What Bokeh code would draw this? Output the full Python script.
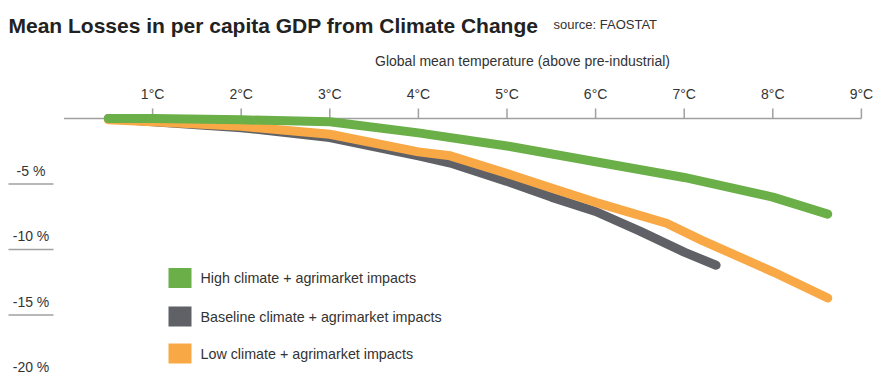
from bokeh.plotting import figure
from bokeh.models import Range1d, Label
from bokeh.core.properties import value
from bokeh.embed import file_html
from bokeh.resources import INLINE

# ---- data ----
series_names = ["High climate + agrimarket impacts",
                "Baseline climate + agrimarket impacts",
                "Low climate  + agrimarket impacts"]
high_t = [0.5, 1.0, 2.0, 3.0, 4.0, 5.0, 6.0, 7.0, 8.0, 8.62]
high_v = [0.0, 0.0, -0.1, -0.25, -1.1, -2.1, -3.3, -4.5, -6.0, -7.3]
base_t = [0.5, 1.0, 2.0, 3.0, 4.0, 4.36, 5.0, 5.5, 6.0, 6.5, 7.0, 7.36]
base_v = [0.0, -0.25, -0.7, -1.45, -2.85, -3.4, -4.8, -6.0, -7.1, -8.6, -10.2, -11.2]
low_t = [0.5, 1.0, 2.0, 3.0, 4.0, 4.36, 5.0, 5.5, 6.0, 6.8, 7.2, 8.0, 8.62]
low_v = [-0.1, -0.25, -0.6, -1.2, -2.55, -2.85, -4.2, -5.3, -6.4, -8.0, -9.3, -11.7, -13.7]
x_ticks = [1, 2, 3, 4, 5, 6, 7, 8, 9]
x_tick_labels = ["1°C", "2°C", "3°C", "4°C", "5°C", "6°C", "7°C", "8°C", "9°C"]
y_ticks = [-5, -10, -15, -20]
y_tick_labels = ["-5 %", "-10 %", "-15 %", "-20 %"]
colors = ["#6aaf47", "#5f6166", "#f9a846"]

W, H = 877, 377
X0PX, XS = 63.5, 88.6   # pixel of 0°C, px per °C
Y0PX, YS = 118.0, 13.1  # pixel of 0 %, px per %

def dx(px):
    return (px - X0PX) / XS

def dy(py):
    return (Y0PX - py) / YS

FONT = "Liberation Sans"
TXT = "#333333"

p = figure(width=W, height=H, output_backend="svg", toolbar_location=None,
           x_range=Range1d(dx(0), dx(W)), y_range=Range1d(dy(H), dy(0)),
           x_axis_location=None, y_axis_location=None, min_border=0)
p.grid.visible = False
p.outline_line_color = None
p.background_fill_color = "white"
p.border_fill_color = "white"

# x axis (drawn at 0 %)
p.segment(x0=[0], y0=[0], x1=[x_ticks[-1]], y1=[0], line_color="#a0a0a0", line_width=1.5)
p.segment(x0=x_ticks, y0=[0] * len(x_ticks), x1=x_ticks, y1=[dy(108)] * len(x_ticks),
          line_color="#a0a0a0", line_width=1.5)
p.text(x=x_ticks, y=[dy(93)] * len(x_ticks), text=x_tick_labels,
       text_font=value(FONT), text_font_size="14px", text_color=TXT,
       text_align="center", text_baseline="middle")

# y labels with underline
p.segment(x0=[dx(8)] * len(y_ticks), y0=y_ticks, x1=[dx(53)] * len(y_ticks), y1=y_ticks,
          line_color="#a0a0a0", line_width=1.5)
p.text(x=[dx(30.5)] * len(y_ticks), y=[v + 1.0 for v in y_ticks], text=y_tick_labels,
       text_font=value(FONT), text_font_size="14px", text_color=TXT,
       text_align="center", text_baseline="middle")

# series lines
p.line(base_t, base_v, line_color=colors[1], line_width=9, line_cap="round", line_join="round")
p.line(low_t, low_v, line_color=colors[2], line_width=9, line_cap="round", line_join="round")
p.line(high_t, high_v, line_color=colors[0], line_width=9, line_cap="round", line_join="round")

# legend (manual)
leg_y = [dy(277.5), dy(316), dy(353)]
p.rect(x=[dx(179.5)] * 3, y=leg_y, width=23, height=20, width_units="screen",
       height_units="screen", fill_color=colors, line_color=None)
p.text(x=[dx(200)] * 3, y=leg_y, text=series_names,
       text_font=value(FONT), text_font_size="14.3px", text_color=TXT,
       text_align="left", text_baseline="middle")

# titles
p.add_layout(Label(x=8, y=H - 25, x_units="screen", y_units="screen",
                   text="Mean Losses in per capita GDP from Climate Change",
                   text_font=FONT, text_font_size="21px", text_font_style="bold",
                   text_color="#222222", text_baseline="alphabetic"))
p.add_layout(Label(x=553, y=H - 24, x_units="screen", y_units="screen",
                   text="source: FAOSTAT", text_font=FONT, text_font_size="13px",
                   text_color=TXT, text_baseline="alphabetic"))
p.add_layout(Label(x=522, y=H - 60, x_units="screen", y_units="screen",
                   text="Global mean temperature (above pre-industrial)", text_font=FONT,
                   text_font_size="14px", text_color=TXT, text_align="center",
                   text_baseline="middle"))

open("out.html", "w").write(file_html(p, INLINE))
